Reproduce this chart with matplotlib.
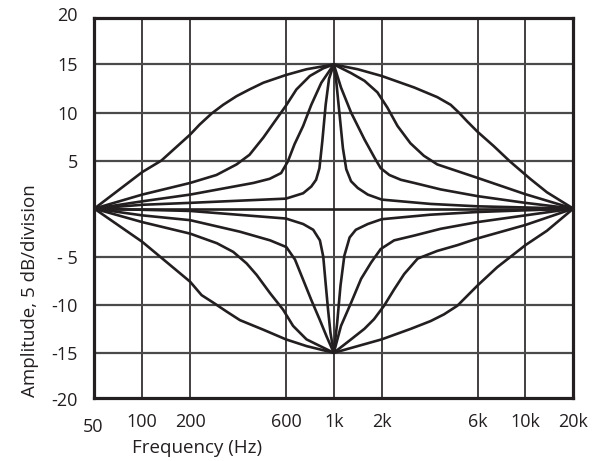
import matplotlib
matplotlib.use('Agg')
import matplotlib.pyplot as plt
import matplotlib.transforms as mtransforms

plt.rcParams['font.family'] = ['Open Sans', 'DejaVu Sans']

INK = '#231f20'
GRIS = '#4a4a4a'

# eje x en divisiones de la rejilla (10 divisiones entre 50 Hz y 20 kHz)
tick_div = [0, 1, 2, 4, 5, 6, 8, 9, 10]
tick_freq = ['50', '100', '200', '600', '1k', '2k', '6k', '10k', '20k']
ytick_vals = [20, 15, 10, 5, -5, -10, -15, -20]
ytick_text = ['20', '15', '10', '5', '- 5', '-10', '-15', '-20']
grid_y = [-15, -10, -5, 5, 10, 15]

# curvas de realce (+15 dB a 1k), de la mas ancha a la mas estrecha
boost_a_x = [0, 1, 1.4, 2, 2.2, 2.45, 2.69, 2.97, 3.24, 3.53, 4, 4.43, 5,
             5.5, 6, 6.68, 7.16, 7.44, 7.61, 7.78, 8, 8.34, 8.68, 9.1, 9.45, 10]
boost_a_y = [0, 3.8, 5, 7.7, 8.75, 9.9, 10.8, 11.7, 12.4, 13.1, 13.9, 14.5, 15,
             14.5, 13.8, 12.6, 11.6, 10.8, 10, 9.1, 8.0, 6.5, 4.9, 3.1, 1.7, 0]
boost_b_x = [0, 1, 2, 2.55, 2.97, 3.24, 3.53, 3.8, 4, 4.22, 4.5, 4.78, 5,
             5.36, 5.64, 5.91, 6.12, 6.33, 6.6, 6.88, 7.16, 7.58, 8, 9, 10]
boost_b_y = [0, 1.46, 2.67, 3.5, 4.6, 5.6, 7.4, 9.3, 10.7, 12.4, 13.8, 14.6, 15,
             14.1, 13.3, 12.1, 10.5, 8.6, 6.8, 5.5, 4.6, 3.9, 3.2, 1.5, 0]
boost_c_x = [0, 1, 2, 3.32, 3.66, 3.9, 4.04, 4.18, 4.36, 4.53, 4.74, 5,
             5.15, 5.36, 5.64, 5.85, 5.98, 6.16, 6.4, 6.68, 7.23, 8, 9, 10]
boost_c_y = [0, 0.76, 1.46, 2.67, 3.1, 3.7, 4.9, 6.7, 8.6, 10.8, 13.1, 15,
             12.6, 10, 7.2, 5.3, 4.2, 3.5, 3.0, 2.67, 2.0, 1.3, 0.6, 0]
boost_d_x = [0, 1, 2, 4, 4.36, 4.53, 4.63, 4.7, 4.76, 4.83, 4.9, 5,
             5.05, 5.12, 5.19, 5.26, 5.36, 5.5, 5.71, 6, 7.02, 8, 10]
boost_d_y = [0, 0.4, 0.6, 1.04, 1.6, 2.3, 3.0, 4.2, 7.0, 10.8, 13.5, 15,
             13.3, 9.8, 6.3, 4.1, 2.85, 2.15, 1.46, 0.94, 0.49, 0.24, 0]

# curvas de corte (-15 dB a 1k)
cut_a_x = [0, 1, 2, 2.24, 2.49, 2.76, 3.04, 3.53, 4, 4.43, 5,
           6, 6.61, 7.02, 7.3, 7.58, 7.78, 8, 8.41, 9, 9.45, 10]
cut_a_y = [0, -3.45, -7.6, -9.0, -9.8, -10.7, -11.6, -12.6, -13.6, -14.3, -15,
           -13.6, -12.5, -11.7, -11.0, -10.1, -9.1, -8.0, -6.1, -3.8, -2.3, 0]
cut_b_x = [0, 1, 2, 2.56, 2.9, 3.18, 3.39, 3.67, 3.94, 4.15, 4.43, 5,
           5.36, 5.64, 5.84, 6.05, 6.26, 6.47, 6.75, 7.16, 7.58, 8, 9, 10]
cut_b_y = [0, -1.4, -2.6, -3.6, -4.5, -5.7, -6.9, -8.8, -10.5, -12.2, -13.6, -15,
           -13.6, -12.5, -11.5, -10.1, -8.4, -6.8, -5.2, -4.4, -3.8, -3.1, -1.7, 0]
cut_c_x = [0, 1, 2, 3.04, 3.67, 4.01, 4.19, 4.36, 4.53, 4.71, 4.85, 5,
           5.15, 5.36, 5.57, 5.78, 5.98, 6.26, 6.68, 7.23, 8, 9, 10]
cut_c_y = [0, -0.7, -1.2, -2.4, -3.3, -4.0, -5.3, -7.4, -9.5, -11.6, -13.3, -15,
           -12.2, -9.8, -7.3, -5.6, -4.2, -3.3, -2.8, -2.1, -1.4, -0.7, 0]
cut_d_x = [0, 2, 4, 4.36, 4.57, 4.71, 4.78, 4.83, 4.88, 4.93, 5,
           5.07, 5.14, 5.22, 5.33, 5.46, 5.71, 6, 7.02, 8, 10]
cut_d_y = [0, -0.24, -1.03, -1.6, -2.2, -3.3, -5.0, -7.8, -10.5, -12.9, -15,
           -11.9, -8.0, -4.9, -3.0, -2.2, -1.6, -1.1, -0.63, -0.35, 0]

curvas = [
    (boost_a_x, boost_a_y), (boost_b_x, boost_b_y),
    (boost_c_x, boost_c_y), (boost_d_x, boost_d_y),
    (cut_a_x, cut_a_y), (cut_b_x, cut_b_y),
    (cut_c_x, cut_c_y), (cut_d_x, cut_d_y),
    ([0, 10], [0, 0]),
]

fig = plt.figure(figsize=(5.92, 4.61), dpi=100)
ax = fig.add_axes([94.3/592, 1 - 398/461, 479/592, 379.7/461])

# rejilla
for d in tick_div[1:-1]:
    ax.axvline(d, color=INK, lw=1.2, zorder=1)
for g in grid_y:
    ax.axhline(g, color=GRIS, lw=1.6, zorder=1)

# curvas
for cx, cy in curvas:
    ax.plot(cx, cy, color=INK, lw=1.9, solid_joinstyle='round',
            solid_capstyle='round', zorder=3)

# el marco corta un poco antes de +-20
ax.set_xlim(0, 10)
ax.set_ylim(-19.7, 19.8)
for spine in ax.spines.values():
    spine.set_linewidth(2.3)
    spine.set_color(INK)

ax.set_xticks(tick_div)
ax.set_xticklabels(tick_freq)
ax.set_yticks(ytick_vals[1:-1])
ax.set_yticklabels(ytick_text[1:-1])
ax.tick_params(axis='x', length=0, pad=10.5, labelsize=13, labelcolor=INK)
ax.tick_params(axis='y', length=0, pad=12, labelsize=13, labelcolor=INK)

# +-20 quedan justo fuera de los limites
ytr = ax.get_yaxis_transform() + mtransforms.ScaledTranslation(-12/72, 0, fig.dpi_scale_trans)
for v, t in [(ytick_vals[0], ytick_text[0]), (ytick_vals[-1], ytick_text[-1])]:
    ax.text(0, v, t, transform=ytr, ha='right', va='center', fontsize=13,
            color=INK, clip_on=False)

# el "50" va un poco mas abajo
lbl50 = ax.get_xticklabels()[0]
lbl50.set_transform(lbl50.get_transform() +
                    mtransforms.ScaledTranslation(-1/100, -5/100, fig.dpi_scale_trans))

fig.text(197.5/592, 1 - 448/461, 'Frequency (Hz)', ha='center', va='center',
         fontsize=13.5, color=INK)
fig.text(30/592, 1 - 291/461, 'Amplitude, 5 dB/division', ha='center', va='center',
         rotation=90, fontsize=13.5, color=INK)

fig.savefig('out.png', dpi=100)
